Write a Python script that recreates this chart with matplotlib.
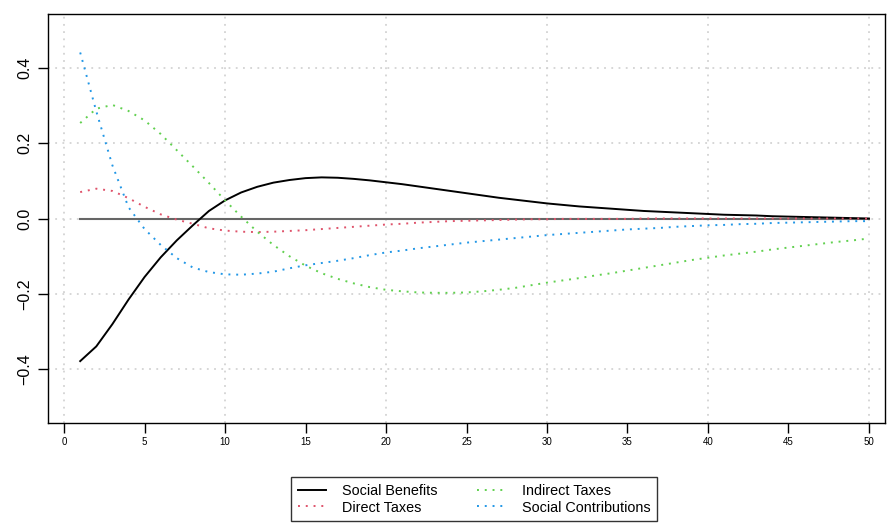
import numpy as np
import matplotlib
matplotlib.use("Agg")
import matplotlib.pyplot as plt

plt.rcParams["font.family"] = ["Liberation Sans", "DejaVu Sans"]

# impulse responses over 50 periods
horizon = np.arange(1, 51)

social_benefits = [
    -0.378, -0.339, -0.280, -0.215, -0.155, -0.103, -0.058, -0.018, 0.020, 0.048,
    0.069, 0.084, 0.095, 0.102, 0.107, 0.109, 0.108, 0.105, 0.101, 0.096,
    0.091, 0.085, 0.079, 0.073, 0.067, 0.061, 0.055, 0.050, 0.045, 0.040,
    0.036, 0.032, 0.029, 0.026, 0.023, 0.020, 0.018, 0.016, 0.014, 0.012,
    0.010, 0.009, 0.008, 0.006, 0.005, 0.004, 0.003, 0.002, 0.001, 0.000,
]
direct_taxes = [
    0.070, 0.079, 0.073, 0.054, 0.031, 0.011, -0.003, -0.014, -0.026, -0.032,
    -0.035, -0.036, -0.035, -0.033, -0.031, -0.028, -0.025, -0.022, -0.019, -0.016,
    -0.014, -0.011, -0.009, -0.007, -0.006, -0.005, -0.004, -0.003, -0.002, -0.002,
    -0.001, -0.001, -0.001, -0.001, -0.001, 0.000, 0.000, 0.000, 0.000, 0.000,
    0.000, 0.000, 0.000, 0.000, 0.000, 0.000, 0.000, 0.000, 0.000, 0.000,
]
indirect_taxes = [
    0.253, 0.291, 0.301, 0.285, 0.260, 0.224, 0.181, 0.138, 0.094, 0.048,
    0.005, -0.035, -0.070, -0.100, -0.125, -0.145, -0.160, -0.172, -0.182, -0.189,
    -0.193, -0.196, -0.197, -0.197, -0.196, -0.193, -0.189, -0.184, -0.177, -0.170,
    -0.164, -0.158, -0.151, -0.145, -0.138, -0.131, -0.124, -0.117, -0.110, -0.104,
    -0.098, -0.093, -0.088, -0.082, -0.077, -0.072, -0.067, -0.062, -0.058, -0.053,
]
social_contrib = [
    0.440, 0.284, 0.141, 0.030, -0.028, -0.070, -0.105, -0.130, -0.142, -0.148,
    -0.149, -0.146, -0.141, -0.132, -0.124, -0.118, -0.112, -0.105, -0.097, -0.090,
    -0.085, -0.079, -0.074, -0.069, -0.064, -0.060, -0.056, -0.052, -0.048, -0.044,
    -0.041, -0.038, -0.035, -0.032, -0.029, -0.027, -0.025, -0.022, -0.020, -0.018,
    -0.017, -0.015, -0.014, -0.012, -0.011, -0.010, -0.009, -0.008, -0.007, -0.007,
]
zero_line = [0.0] * 50

fig = plt.figure(figsize=(8.89, 5.25), dpi=100)
ax = fig.add_axes([48 / 889, 102 / 525, 837 / 889, 409 / 525])

# dotted grey grid, as in base R grid()
for gx in range(0, 51, 10):
    ax.axvline(gx, color="#D3D3D3", lw=1.3, ls=(0, (1, 3)), zorder=0)
for gy in [-0.4, -0.2, 0.0, 0.2, 0.4]:
    ax.axhline(gy, color="#D3D3D3", lw=1.3, ls=(0, (1, 3)), zorder=0)

ax.plot(horizon, zero_line, color="#666666", lw=1.5, zorder=1)
ax.plot(horizon, social_benefits, color="black", lw=1.4, label="Social Benefits", zorder=3)
ax.plot(horizon, direct_taxes, color="#DF536B", lw=1.4, ls=(0, (1, 3)), label="Direct Taxes", zorder=3)
ax.plot(horizon, indirect_taxes, color="#61D04F", lw=1.4, ls=(0, (1, 3)), label="Indirect Taxes", zorder=3)
ax.plot(horizon, social_contrib, color="#2297E6", lw=1.4, ls=(0, (1, 3)), label="Social Contributions", zorder=3)

ax.set_xlim(-1.0, 51.0)
ax.set_ylim(-0.542, 0.542)
ax.set_xticks(range(0, 51, 5))
ax.set_yticks([-0.4, -0.2, 0.0, 0.2, 0.4])
ax.set_yticklabels(["\u22120.4", "\u22120.2", "0.0", "0.2", "0.4"], rotation=90, va="center")
ax.tick_params(axis="x", direction="out", length=7, width=1, labelsize=7, pad=3)
ax.tick_params(axis="y", direction="out", length=7, width=1, labelsize=11.5, pad=4)
for sp in ax.spines.values():
    sp.set_linewidth(1.0)

handles, labels = ax.get_legend_handles_labels()
leg = fig.legend(
    handles, labels,
    loc="lower left", bbox_to_anchor=(291 / 889, 4 / 525, 366 / 889, 45 / 525),
    mode="expand", ncol=2, fontsize=10.4, frameon=True, fancybox=False,
    borderaxespad=0, handlelength=2.0, handletextpad=1.1, columnspacing=1.5,
    labelspacing=0.2, borderpad=0.45,
)
leg.get_frame().set_edgecolor("black")
leg.get_frame().set_linewidth(1.0)

fig.savefig("out.png", dpi=100, facecolor="white")
